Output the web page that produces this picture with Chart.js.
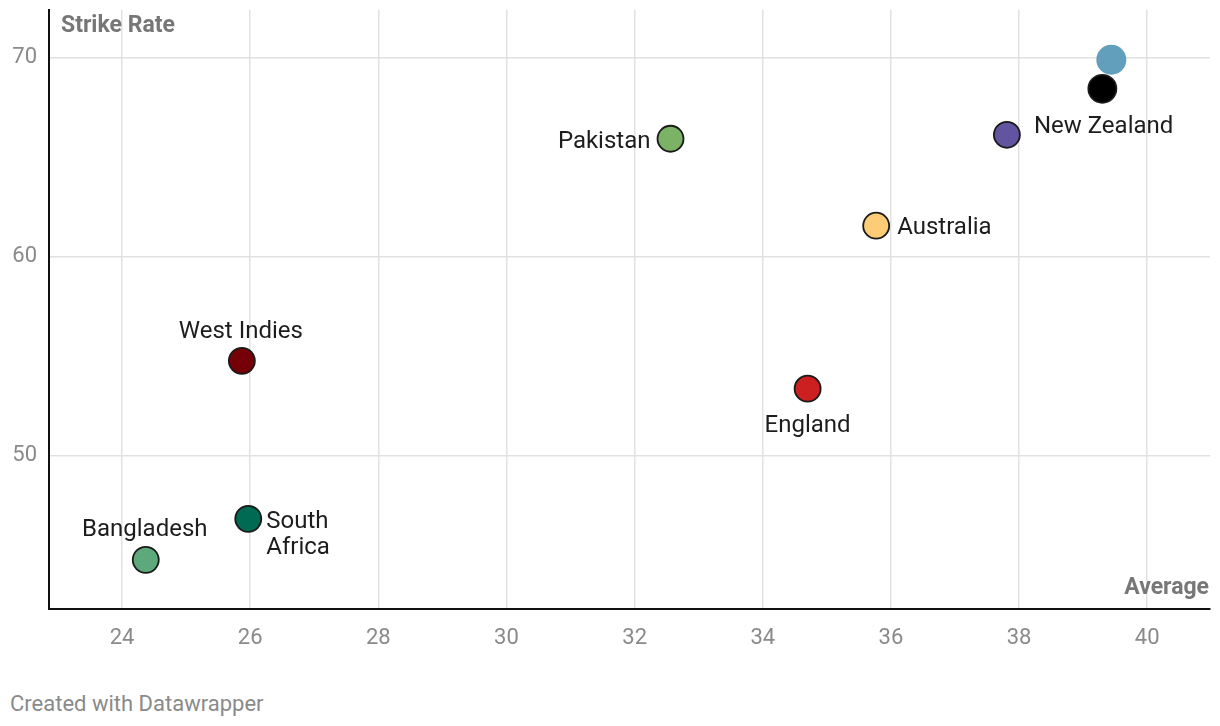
<!DOCTYPE html>
<html>
<head>
<meta charset="utf-8">
<script src="https://cdn.jsdelivr.net/npm/chart.js@4/dist/chart.umd.min.js"></script>
<style>
  html, body { margin: 0; padding: 0; background: #fff; }
  body { width: 1220px; height: 726px; position: relative; font-family: Roboto, sans-serif; }
  #wrap { position: absolute; left: 0; top: 0; width: 1220px; height: 670px; }
  #foot { position: absolute; left: 10px; top: 691px; font-size: 22px; color: #8a8a8a; font-family: Roboto, sans-serif; }
</style>
</head>
<body>
<div id="wrap"><canvas id="c"></canvas></div>
<div id="foot">Created with Datawrapper</div>
<script>
const teams = ["", "", "New Zealand", "Pakistan", "Australia", "West Indies", "England", "South Africa", "Bangladesh"];
const averages = [39.44, 39.30, 37.81, 32.56, 35.77, 25.87, 34.70, 25.97, 24.37];
const strikeRates = [69.9, 68.44, 66.13, 65.93, 61.56, 54.77, 53.37, 46.83, 44.77];
const colors = ["#619fbd", "#000000", "#62549f", "#7bb266", "#fecb76", "#760008", "#cc2020", "#006b52", "#5ea97b"];
const xTicks = [24, 26, 28, 30, 32, 34, 36, 38, 40];
const yTicks = [50, 60, 70];

// label placement (style): dx, dy, alignment
const labelStyle = [
  null, null,
  {dx: 27, dy: -8, align: "left"},
  {dx: -20, dy: 3, align: "right"},
  {dx: 21, dy: 2, align: "left"},
  {dx: -1, dy: -29, align: "center"},
  {dx: 0, dy: 37, align: "center"},
  {dx: 18, dy: 3, align: "left", lh: 26},
  {dx: -1, dy: -30, align: "center"}
];

const labelPlugin = {
  id: "labels",
  afterDatasetsDraw(chart) {
    const ctx = chart.ctx;
    const meta = chart.getDatasetMeta(0);
    ctx.save();
    ctx.font = "24px Roboto";
    ctx.fillStyle = "#1d1d1d";
    ctx.textBaseline = "middle";
    teams.forEach((t, i) => {
      if (!t) return;
      const p = meta.data[i];
      const s = labelStyle[i];
      ctx.textAlign = s.align;
      if (t === "South Africa") {
        ctx.fillText("South", p.x + s.dx, p.y + s.dy);
        ctx.fillText("Africa", p.x + s.dx, p.y + s.dy + s.lh);
      } else {
        ctx.fillText(t, p.x + s.dx, p.y + s.dy);
      }
    });
    // axis titles
    const a = chart.chartArea;
    ctx.font = "bold 23px Roboto";
    ctx.fillStyle = "#777777";
    ctx.textAlign = "left";
    ctx.fillText("Strike Rate", a.left + 12, a.top + 16);
    ctx.textAlign = "right";
    ctx.fillText("Average", a.right - 1, a.bottom - 21);
    ctx.restore();
  }
};

new Chart(document.getElementById("c"), {
  type: "scatter",
  data: {
    datasets: [{
      data: averages.map((x, i) => ({x: x, y: strikeRates[i]})),
      backgroundColor: colors,
      borderColor: colors.map((c, i) => i === 0 ? c : "#1a1a1a"),
      borderWidth: colors.map((c, i) => i === 0 ? 0 : 1.8),
      pointRadius: colors.map((c, i) => i === 0 ? 15 : (i === 1 ? 14 : 13)),
      pointHoverRadius: colors.map((c, i) => i === 0 ? 15 : (i === 1 ? 14 : 13))
    }]
  },
  options: {
    responsive: true,
    maintainAspectRatio: false,
    animation: false,
    events: [],
    layout: { autoPadding: false, padding: { top: 10, right: 10, left: 0, bottom: 0 } },
    plugins: { legend: { display: false }, tooltip: { enabled: false } },
    scales: {
      x: {
        type: "linear",
        min: 22.86,
        max: 40.98,
        afterBuildTicks: (s) => { s.ticks = xTicks.map(v => ({value: v})); },
        afterFit: (s) => { s.height = 61; s.paddingLeft = 0; s.paddingRight = 0; },
        grid: { color: "#e1e1e1", lineWidth: 1.5, drawTicks: false },
        border: { display: true, color: "#111111", width: 2 },
        ticks: { color: "#8a8a8a", font: { family: "Roboto", size: 22 }, padding: 16 }
      },
      y: {
        type: "linear",
        min: 42.3,
        max: 72.4,
        afterBuildTicks: (s) => { s.ticks = yTicks.map(v => ({value: v})); },
        afterFit: (s) => { s.width = 49; s.paddingTop = 0; s.paddingBottom = 0; },
        grid: { color: "#e1e1e1", lineWidth: 1.5, drawTicks: false },
        border: { display: true, color: "#111111", width: 2 },
        ticks: { color: "#8a8a8a", font: { family: "Roboto", size: 22 }, padding: 12 }
      }
    }
  },
  plugins: [labelPlugin]
});
</script>
</body>
</html>
